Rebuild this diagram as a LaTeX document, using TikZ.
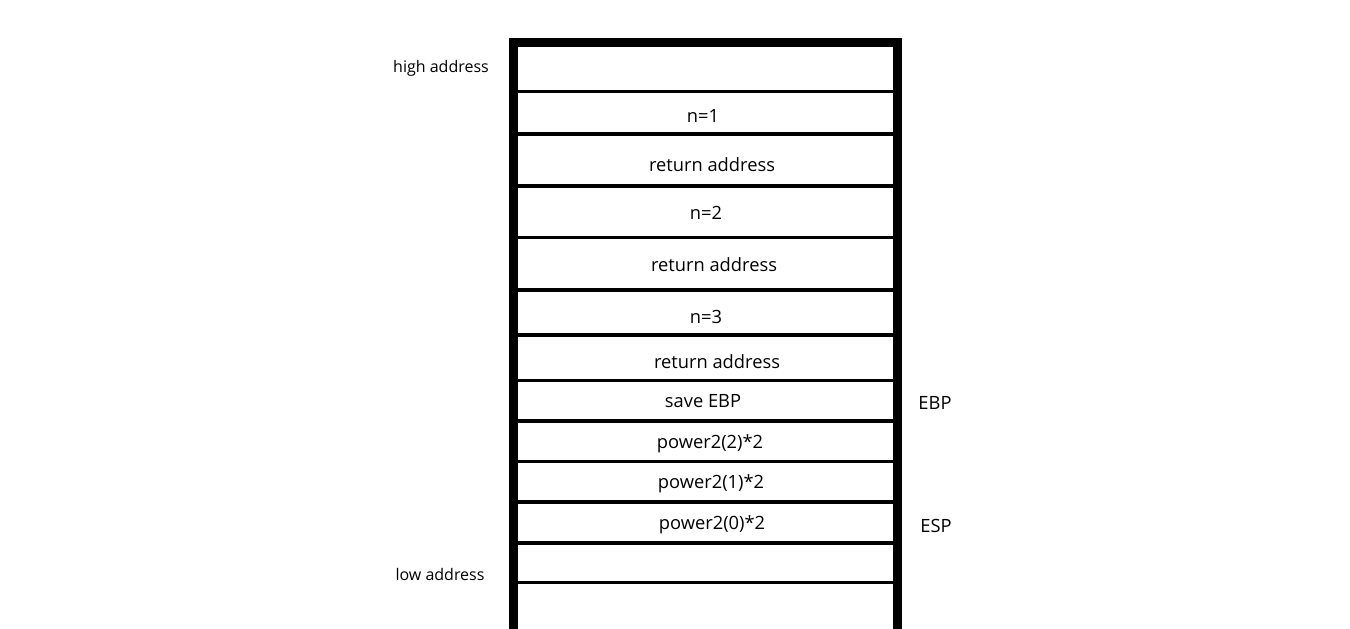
\documentclass[tikz,border=0pt]{standalone}
\usepackage{fontspec}
\setmainfont{Open Sans}
\begin{document}
\begin{tikzpicture}[x=1pt,y=-1pt,
  wall/.style={line width=9pt},
  sep/.style={line width=3.6pt},
  cell/.style={inner sep=0pt,yshift=-2pt,font=\fontsize{18.3}{20}\selectfont},
  side/.style={inner sep=0pt,yshift=-1.5pt,font=\fontsize{16}{18}\selectfont}]
\useasboundingbox (0,0) rectangle (1350,629);
% walls
\draw[wall] (513.5,629) -- (513.5,42.5) -- (897.5,42.5) -- (897.5,629);
% separators
\foreach \y in {91.5,134,186,237.5,290,335,380.5,421,461.5,502,543,582.5}
  \draw[sep] (518,\y) -- (893,\y);
% cell labels
\node[cell] (n1) at (703,114) {n=1};
\node[cell] (r1) at (712,163) {return address};
\node[cell] (n2) at (706,211) {n=2};
\node[cell] (r2) at (714,263) {return address};
\node[cell] (n3) at (706,315) {n=3};
\node[cell] (r3) at (717,360) {return address};
\node[cell] (sv) at (703,399) {save EBP};
\node[cell] (p2) at (710,442) {power2(2)*2};
\node[cell] (p1) at (711,482) {power2(1)*2};
\node[cell] (p0) at (712,523) {power2(0)*2};
% side labels
\node[cell] (ebp) at (935,401) {EBP};
\node[cell] (esp) at (936,524) {ESP};
\node[side] (hi) at (441,67) {high address};
\node[side] (lo) at (440,573) {low address};
\end{tikzpicture}
\end{document}
